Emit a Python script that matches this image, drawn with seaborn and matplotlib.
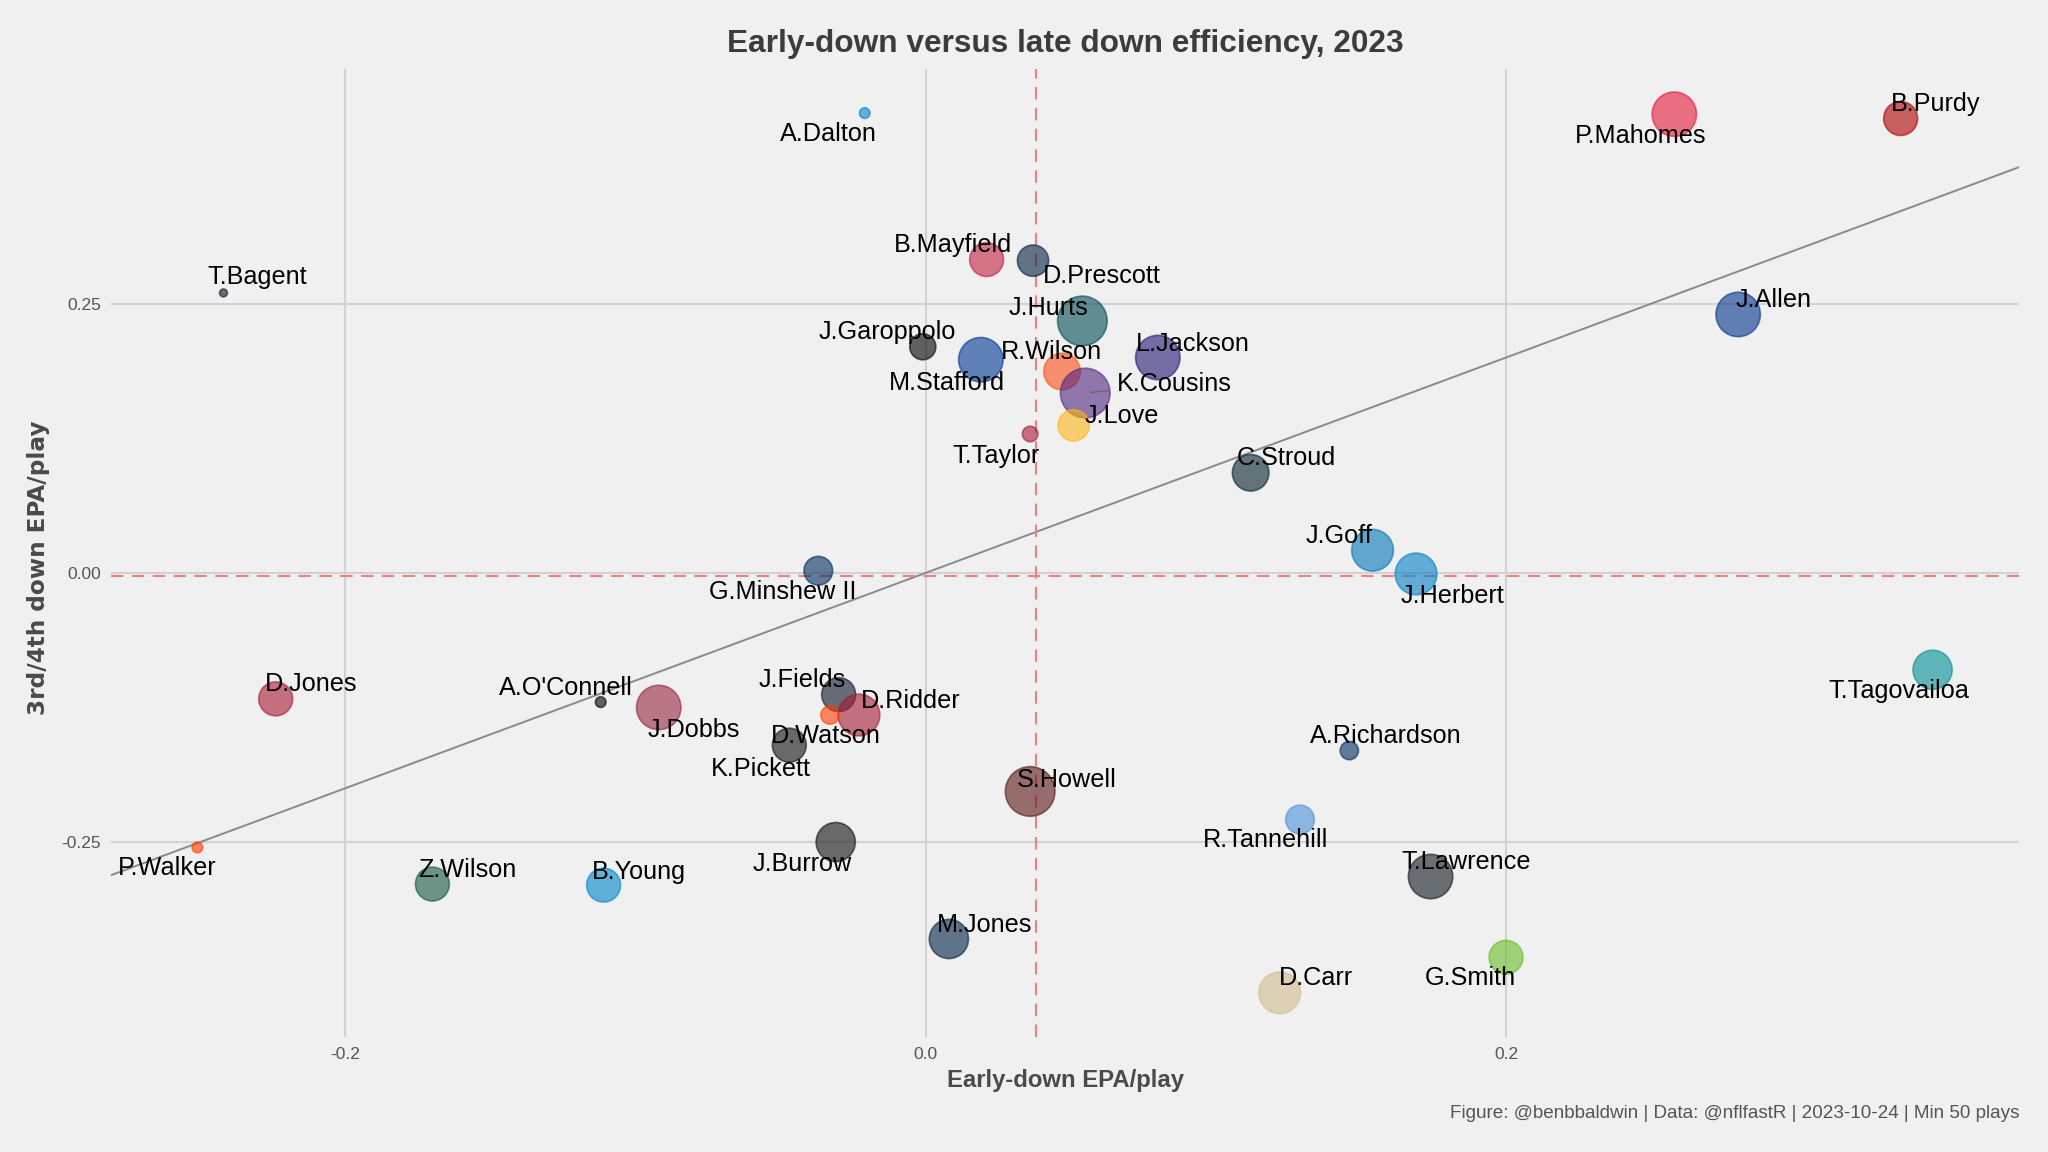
import numpy as np
import pandas as pd
import matplotlib.pyplot as plt
import seaborn as sns

players = ["A.Dalton", "P.Mahomes", "B.Purdy", "B.Mayfield", "D.Prescott", "T.Bagent",
           "J.Hurts", "J.Allen", "J.Garoppolo", "M.Stafford", "R.Wilson", "L.Jackson",
           "K.Cousins", "J.Love", "T.Taylor", "C.Stroud", "J.Goff", "J.Herbert",
           "G.Minshew II", "T.Tagovailoa", "D.Jones", "A.O'Connell", "J.Dobbs", "J.Fields",
           "D.Ridder", "D.Watson", "K.Pickett", "A.Richardson", "S.Howell", "R.Tannehill",
           "J.Burrow", "P.Walker", "T.Lawrence", "Z.Wilson", "B.Young", "M.Jones",
           "G.Smith", "D.Carr"]
early_epa = [-0.021, 0.258, 0.336, 0.021, 0.037, -0.242,
             0.054, 0.280, -0.001, 0.019, 0.047, 0.080,
             0.055, 0.051, 0.036, 0.112, 0.154, 0.169,
             -0.037, 0.347, -0.224, -0.112, -0.092, -0.030,
             -0.023, -0.033, -0.047, 0.146, 0.036, 0.129,
             -0.031, -0.251, 0.174, -0.170, -0.111, 0.008,
             0.200, 0.122]
late_epa = [0.427, 0.426, 0.422, 0.291, 0.290, 0.260,
            0.234, 0.240, 0.210, 0.198, 0.187, 0.200,
            0.167, 0.137, 0.129, 0.093, 0.021, -0.001,
            0.002, -0.090, -0.117, -0.120, -0.125, -0.113,
            -0.132, -0.132, -0.160, -0.165, -0.203, -0.229,
            -0.250, -0.255, -0.282, -0.289, -0.290, -0.340,
            -0.357, -0.390]
plays = [56, 273, 177, 177, 157, 50,
         330, 273, 122, 273, 199, 273,
         330, 157, 71, 199, 246, 246,
         139, 222, 177, 56, 273, 177,
         246, 82, 177, 82, 330, 139,
         222, 56, 273, 177, 177, 222,
         177, 246]

# team colours
team_colors = {
    "A.Dalton": "#0085CA", "P.Mahomes": "#E31837", "B.Purdy": "#AA0000",
    "B.Mayfield": "#C02040", "D.Prescott": "#041E42", "T.Bagent": "#0B162A",
    "J.Hurts": "#004C54", "J.Allen": "#00338D", "J.Garoppolo": "#000000",
    "M.Stafford": "#003594", "R.Wilson": "#FB4F14", "L.Jackson": "#241773",
    "K.Cousins": "#4F2683", "J.Love": "#FFB612", "T.Taylor": "#A71930",
    "C.Stroud": "#03202F", "J.Goff": "#0076B6", "J.Herbert": "#0080C6",
    "G.Minshew II": "#002C5F", "T.Tagovailoa": "#008E97", "D.Jones": "#A71930",
    "A.O'Connell": "#000000", "J.Dobbs": "#97233F", "J.Fields": "#0B162A",
    "D.Ridder": "#A71930", "D.Watson": "#FF3C00", "K.Pickett": "#101010",
    "A.Richardson": "#002C5F", "S.Howell": "#5A1414", "R.Tannehill": "#4B92DB",
    "J.Burrow": "#101010", "P.Walker": "#FF3C00", "T.Lawrence": "#101820",
    "Z.Wilson": "#125740", "B.Young": "#0085CA", "M.Jones": "#002244",
    "G.Smith": "#69BE28", "D.Carr": "#D3BC8D",
}

# label nudges (right, down) in px of the small preview
nudge = {
    "A.Dalton": (-28, 14), "P.Mahomes": (-26, 15), "B.Purdy": (27, -13),
    "B.Mayfield": (-26, -13), "D.Prescott": (53, 10), "T.Bagent": (26, -14),
    "J.Hurts": (-26, -12), "J.Allen": (27, -13), "J.Garoppolo": (-27, -13),
    "M.Stafford": (-26, 16), "R.Wilson": (-8, -17), "L.Jackson": (27, -12),
    "K.Cousins": (68, -9), "J.Love": (37, -9), "T.Taylor": (-26, 15),
    "C.Stroud": (27, -13), "J.Goff": (-26, -13), "J.Herbert": (28, 15),
    "G.Minshew II": (-27, 14), "T.Tagovailoa": (-26, 14), "D.Jones": (27, -13),
    "A.O'Connell": (-27, -13), "J.Dobbs": (27, 15), "J.Fields": (-28, -13),
    "D.Ridder": (40, -13), "D.Watson": (-3, 14), "K.Pickett": (-22, 16),
    "A.Richardson": (28, -13), "S.Howell": (28, -11), "R.Tannehill": (-26, 14),
    "J.Burrow": (-26, 15), "P.Walker": (-23, 14), "T.Lawrence": (27, -13),
    "Z.Wilson": (27, -13), "B.Young": (27, -12), "M.Jones": (27, -13),
    "G.Smith": (-27, 14), "D.Carr": (28, -13),
}

df = pd.DataFrame({"player": players, "early": early_epa, "late": late_epa, "plays": plays})

sns.set_style("whitegrid")
plt.rcParams['font.family'] = ['Liberation Sans', 'DejaVu Sans']

bg = "#F0F0F0"
fig = plt.figure(figsize=(20.48, 11.52), dpi=100, facecolor=bg)
ax = fig.add_axes([0.054, 0.100, 0.932, 0.840])
ax.set_facecolor(bg)

ax.axline((0, 0), slope=1, color="#8a8a8a", lw=1.4, zorder=1)
ax.axvline(df["early"].mean(), color="#F08080", lw=1.5, ls=(0, (6, 4)), zorder=1)
ax.axhline(df["late"].mean(), color="#F08080", lw=1.5, ls=(0, (6, 4)), zorder=1)

sns.scatterplot(data=df, x="early", y="late", hue="player", palette=team_colors,
                size="plays", sizes=(32, 1275), alpha=0.6, linewidth=1.2,
                legend=False, ax=ax, zorder=3)
pts = ax.collections[-1]
pts.set_edgecolor(pts.get_facecolor())

k = 2048 / 1568 * 0.72
for _, row in df.iterrows():
    dx, dy = nudge[row["player"]]
    dy += 2
    props = None
    if row["player"] == "K.Cousins":
        props = dict(arrowstyle="-", color="#666666", lw=0.9, shrinkA=3, shrinkB=4)
    ax.annotate(row["player"], (row["early"], row["late"]), xytext=(dx * k, -dy * k),
                textcoords="offset points", ha="center", va="center", fontsize=18.2,
                color="black", arrowprops=props, zorder=4)

xr = df["early"].max() - df["early"].min()
yr = df["late"].max() - df["late"].min()
ax.set_xlim(df["early"].min() - 0.05 * xr, df["early"].max() + 0.05 * xr)
ax.set_ylim(df["late"].min() - 0.05 * yr, df["late"].max() + 0.05 * yr)

ax.set_xticks([-0.2, 0.0, 0.2])
ax.set_xticklabels(["-0.2", "0.0", "0.2"])
ax.set_yticks([-0.25, 0.0, 0.25])
ax.set_yticklabels(["-0.25", "0.00", "0.25"])
ax.tick_params(length=0, labelsize=12.5, labelcolor="#555555", pad=7)
ax.grid(color="#D2D2D2", linewidth=1.5)
ax.set_xlabel("")
ax.set_ylabel("")
for s in ax.spines.values():
    s.set_visible(False)

fig.text(0.5203, 1 - 44 / 1152, "Early-down versus late down efficiency, 2023", ha="center",
         va="center", fontsize=22.8, fontweight="bold", color="#3C3C3C")
fig.text(0.5203, 1 - 1081 / 1152, "Early-down EPA/play", ha="center", va="center",
         fontsize=17.2, fontweight="bold", color="#4A4A4A")
fig.text(39 / 2048, 1 - 568 / 1152, "3rd/4th down EPA/play", ha="center", va="center",
         rotation=90, fontsize=16.7, fontweight="bold", color="#4A4A4A", family="DejaVu Sans")
fig.text(2020 / 2048, 1 - 1113 / 1152,
         "Figure: @benbbaldwin | Data: @nflfastR | 2023-10-24 | Min 50 plays",
         ha="right", va="center", fontsize=13.6, color="#555555")

fig.savefig("out.png", dpi=100, facecolor=bg)
